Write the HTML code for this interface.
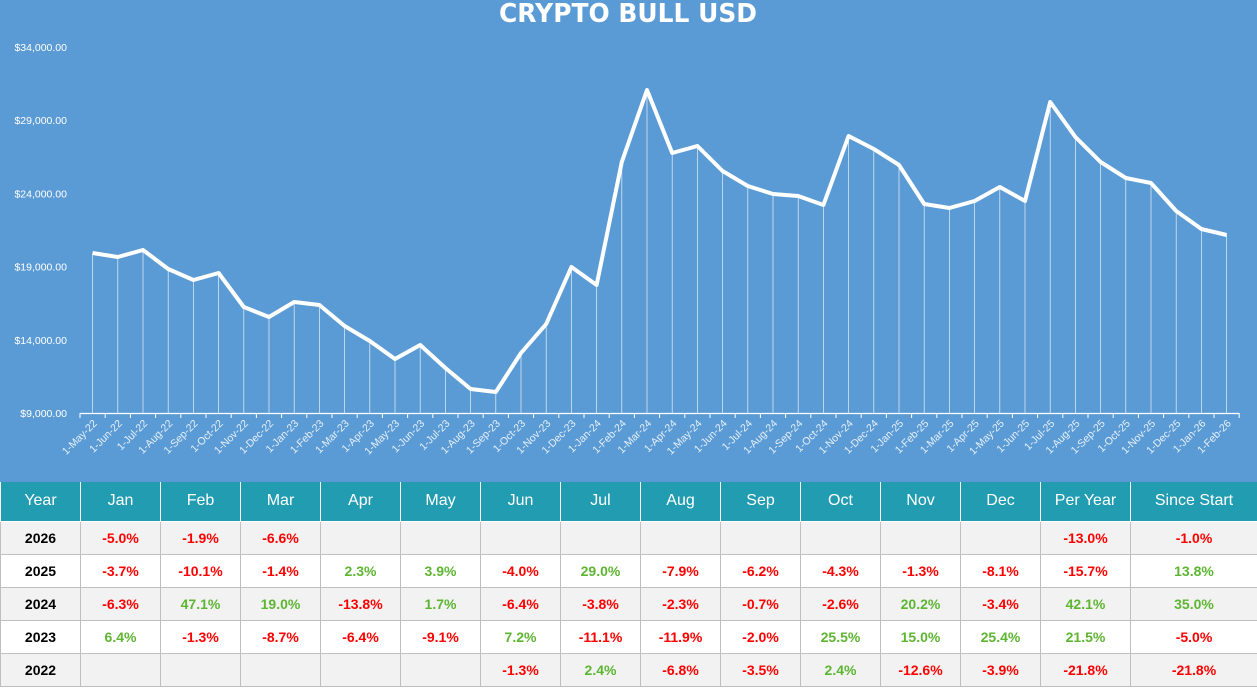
<!DOCTYPE html>
<html><head><meta charset="utf-8"><style>
body{margin:0;width:1257px;height:688px;overflow:hidden;background:#fff;font-family:"Liberation Sans",sans-serif}
#chart{position:absolute;left:0;top:0;width:1257px;height:482px;background:#5B9BD5}
svg text{font-family:"Liberation Sans",Arial,sans-serif}
table{position:absolute;left:0;top:482px;border-collapse:collapse;table-layout:fixed;width:1257px}
td,th{height:33px;box-sizing:border-box;border:1px solid #BFBFBF;text-align:center;font-size:14px;font-weight:bold;padding:0}
th{background:#229CB0;color:#fff;font-weight:normal;font-size:16px;height:39px;border:1px solid #fff;border-top:none}
tr:nth-child(even) td{background:#F2F2F2}
.r{color:#FF0000}.g{color:#5DB531}
</style></head><body>
<div id="chart"><svg id="s" width="1257" height="482" xmlns="http://www.w3.org/2000/svg" font-family="Liberation Sans, sans-serif">
<text x="628" y="22" fill="#fff" font-size="26" font-weight="bold" text-anchor="middle" style="font-family:'DejaVu Sans',sans-serif" textLength="258" lengthAdjust="spacingAndGlyphs">CRYPTO BULL USD</text>
</svg></div>
<table>
<colgroup><col style="width:80px"><col span="12" style="width:80px"><col style="width:90px"><col style="width:127px"></colgroup>
<tr><th>Year</th><th>Jan</th><th>Feb</th><th>Mar</th><th>Apr</th><th>May</th><th>Jun</th><th>Jul</th><th>Aug</th><th>Sep</th><th>Oct</th><th>Nov</th><th>Dec</th><th>Per Year</th><th>Since Start</th></tr>
<tr><td>2026</td><td class="r">-5.0%</td><td class="r">-1.9%</td><td class="r">-6.6%</td><td></td><td></td><td></td><td></td><td></td><td></td><td></td><td></td><td></td><td class="r">-13.0%</td><td class="r">-1.0%</td></tr>
<tr><td>2025</td><td class="r">-3.7%</td><td class="r">-10.1%</td><td class="r">-1.4%</td><td class="g">2.3%</td><td class="g">3.9%</td><td class="r">-4.0%</td><td class="g">29.0%</td><td class="r">-7.9%</td><td class="r">-6.2%</td><td class="r">-4.3%</td><td class="r">-1.3%</td><td class="r">-8.1%</td><td class="r">-15.7%</td><td class="g">13.8%</td></tr>
<tr><td>2024</td><td class="r">-6.3%</td><td class="g">47.1%</td><td class="g">19.0%</td><td class="r">-13.8%</td><td class="g">1.7%</td><td class="r">-6.4%</td><td class="r">-3.8%</td><td class="r">-2.3%</td><td class="r">-0.7%</td><td class="r">-2.6%</td><td class="g">20.2%</td><td class="r">-3.4%</td><td class="g">42.1%</td><td class="g">35.0%</td></tr>
<tr><td>2023</td><td class="g">6.4%</td><td class="r">-1.3%</td><td class="r">-8.7%</td><td class="r">-6.4%</td><td class="r">-9.1%</td><td class="g">7.2%</td><td class="r">-11.1%</td><td class="r">-11.9%</td><td class="r">-2.0%</td><td class="g">25.5%</td><td class="g">15.0%</td><td class="g">25.4%</td><td class="g">21.5%</td><td class="r">-5.0%</td></tr>
<tr><td>2022</td><td></td><td></td><td></td><td></td><td></td><td class="r">-1.3%</td><td class="g">2.4%</td><td class="r">-6.8%</td><td class="r">-3.5%</td><td class="g">2.4%</td><td class="r">-12.6%</td><td class="r">-3.9%</td><td class="r">-21.8%</td><td class="r">-21.8%</td></tr>
</table>
<script>
var ys=[253,257,250,269,280,273,307,317,302,305,326,341,359,345,368,389,392,353,324,267,285,162,90,153,146,171,186,194,196,205,136,149,165,204,208,201,187,201,102,137,162,178,183,211,229,235];
var mon=["Jan","Feb","Mar","Apr","May","Jun","Jul","Aug","Sep","Oct","Nov","Dec"];
var s=document.getElementById('s'),h='';
var F=' font-family="Liberation Sans, Arial, sans-serif"';
var yl=["$9,000.00","$14,000.00","$19,000.00","$24,000.00","$29,000.00","$34,000.00"];
for(var i=0;i<6;i++){h+='<text'+F+' x="67" y="'+(417-i*73.2)+'" fill="#fff" font-size="10.5" text-anchor="end">'+yl[i]+'</text>';}
h+='<line x1="80" y1="413.5" x2="1239" y2="413.5" stroke="#fff" stroke-width="1.2"/>';
for(var i=0;i<=46;i++){var x=80+i*25.2;h+='<line x1="'+x+'" y1="413" x2="'+x+'" y2="418" stroke="#fff"/>';}
var pts=[];
for(var i=0;i<46;i++){var x=92.6+i*25.2;pts.push(x+','+ys[i]);
h+='<line x1="'+x+'" y1="'+ys[i]+'" x2="'+x+'" y2="413" stroke="#fff" stroke-width="0.7" stroke-opacity="0.85"/>';
var m=(4+i)%12,yr=22+Math.floor((4+i)/12);
h+='<text'+F+' transform="translate('+(x+5)+',424) rotate(-45)" fill="#E6F0FA" font-size="10.5" text-anchor="end">1-'+mon[m]+'-'+yr+'</text>';}
h+='<polyline points="'+pts.join(' ')+'" fill="none" stroke="#fff" stroke-width="4" stroke-linejoin="round"/>';
s.insertAdjacentHTML('beforeend',h);
</script>
</body></html>
